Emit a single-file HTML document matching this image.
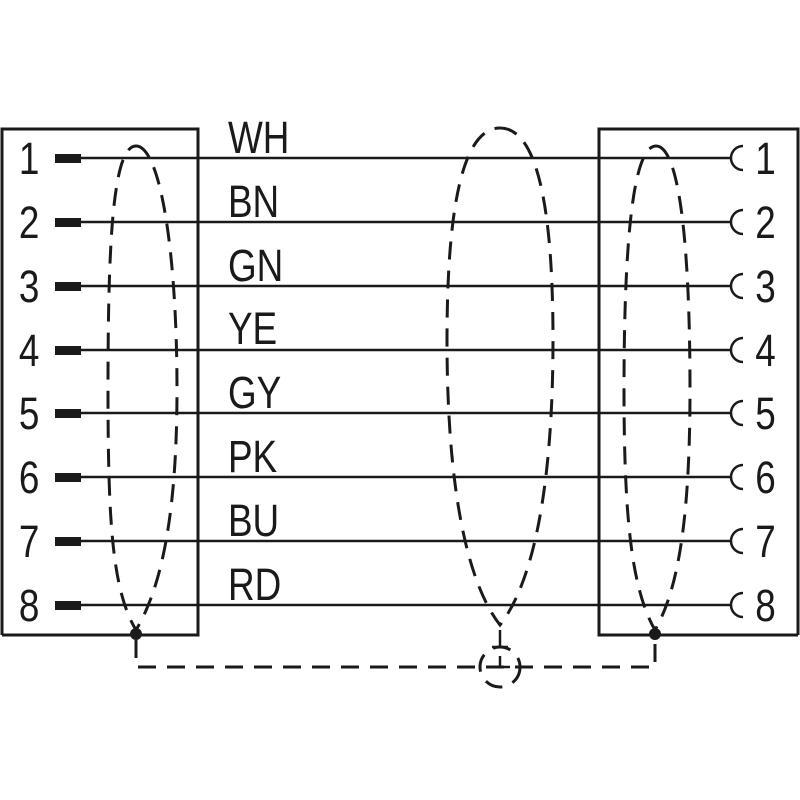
<!DOCTYPE html>
<html><head><style>html,body{margin:0;padding:0;background:#fff;}svg{display:block}</style></head>
<body>
<svg width="800" height="800" viewBox="0 0 800 800" xmlns="http://www.w3.org/2000/svg">
<g fill="none" stroke="#1a1a1a" stroke-width="3">
<polyline points="2,635 2,129 198,129 198,635 2,635"/>
<polyline points="798,635 798,129 599,129 599,635 798,635"/>
</g>
<g stroke="#1a1a1a" stroke-width="2.5">
<line x1="80" y1="158" x2="730" y2="158"/>
<line x1="80" y1="222" x2="730" y2="222"/>
<line x1="80" y1="286" x2="730" y2="286"/>
<line x1="80" y1="350" x2="730" y2="350"/>
<line x1="80" y1="413" x2="730" y2="413"/>
<line x1="80" y1="477" x2="730" y2="477"/>
<line x1="80" y1="541" x2="730" y2="541"/>
<line x1="80" y1="605" x2="730" y2="605"/>
</g>
<g fill="#1a1a1a">
<rect x="55" y="154" width="26" height="9"/>
<rect x="55" y="218" width="26" height="9"/>
<rect x="55" y="282" width="26" height="9"/>
<rect x="55" y="346" width="26" height="9"/>
<rect x="55" y="409" width="26" height="9"/>
<rect x="55" y="473" width="26" height="9"/>
<rect x="55" y="537" width="26" height="9"/>
<rect x="55" y="601" width="26" height="9"/>
<circle cx="136" cy="634" r="6"/>
<circle cx="655" cy="634" r="6"/>
</g>
<g fill="none" stroke="#1a1a1a" stroke-width="2.5">
<path d="M743,146 a12,12 0 0 0 0,24"/>
<path d="M743,210 a12,12 0 0 0 0,24"/>
<path d="M743,274 a12,12 0 0 0 0,24"/>
<path d="M743,338 a12,12 0 0 0 0,24"/>
<path d="M743,401 a12,12 0 0 0 0,24"/>
<path d="M743,465 a12,12 0 0 0 0,24"/>
<path d="M743,529 a12,12 0 0 0 0,24"/>
<path d="M743,593 a12,12 0 0 0 0,24"/>
</g>
<g fill="none" stroke="#1a1a1a" stroke-width="3" stroke-dasharray="18,11">
<path d="M136,146 C160,146 177,250 177,390 C177,520 160,590 136,630 C112,590 108,520 108,390 C108,250 112,146 136,146 Z"/>
<path d="M500,128 C538,128 553,210 553,340 C553,480 535,580 500,625 C465,580 447,480 447,340 C447,210 462,128 500,128 Z"/>
<path d="M656,146 C680,146 690,250 690,390 C690,520 678,590 655,630 C632,590 624,520 624,390 C624,250 632,146 656,146 Z"/>
<polyline points="136,640 136,667 655,667 655,640"/>
<circle cx="500" cy="667" r="20"/>
</g>
<g stroke="#1a1a1a" stroke-width="2.5" fill="none">
<line x1="500" y1="630" x2="500" y2="647"/>
<line x1="492" y1="647" x2="508" y2="647"/>
<line x1="500" y1="656" x2="500" y2="667"/>
<line x1="490" y1="667" x2="510" y2="667"/>
</g>
<g font-family="'Liberation Sans',sans-serif" font-size="45" fill="#1a1a1a" transform="scale(0.82,1)">
<text x="23" y="174">1</text><text x="23" y="238">2</text><text x="23" y="302">3</text><text x="23" y="366">4</text>
<text x="23" y="429">5</text><text x="23" y="493">6</text><text x="23" y="557">7</text><text x="23" y="621">8</text>
<text x="921" y="174">1</text><text x="921" y="238">2</text><text x="921" y="302">3</text><text x="921" y="366">4</text>
<text x="921" y="429">5</text><text x="921" y="493">6</text><text x="921" y="557">7</text><text x="921" y="621">8</text>
<text x="278" y="153">WH</text><text x="278" y="217">BN</text><text x="278" y="281">GN</text><text x="278" y="344">YE</text>
<text x="278" y="408">GY</text><text x="278" y="472">PK</text><text x="278" y="536">BU</text><text x="278" y="600">RD</text>
</g>
</svg>
</body></html>
